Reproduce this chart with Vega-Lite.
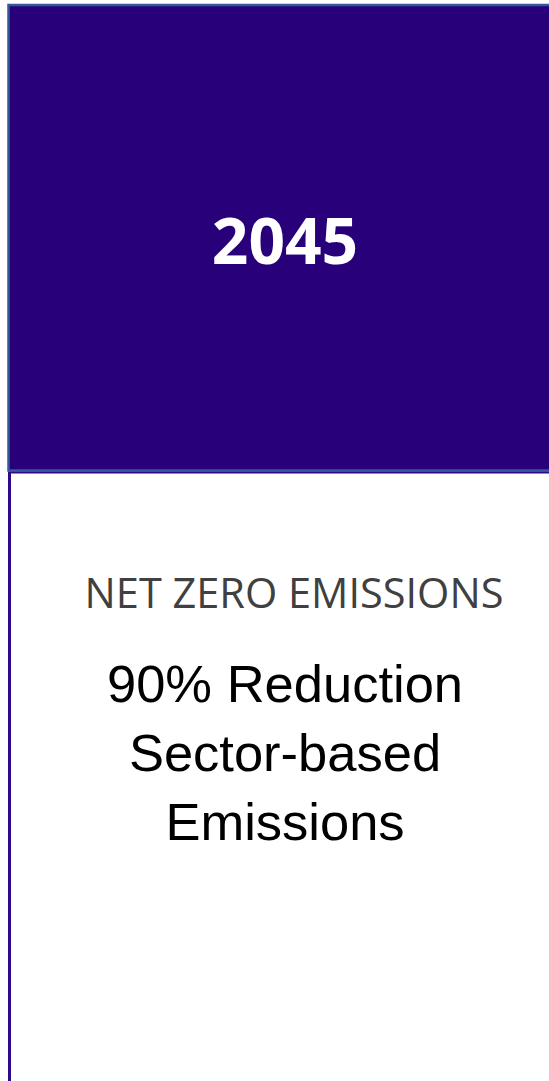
{
  "$schema": "https://vega.github.io/schema/vega-lite/v6.json",
  "width": 549,
  "height": 1081,
  "padding": 0,
  "autosize": {"type": "none"},
  "background": "white",
  "config": {"view": {"stroke": null}},
  "datasets": {
    "box": [{"x": 8.5, "x2": 556, "y": 5, "y2": 470.5}],
    "hline": [{"x": 8.5, "x2": 549, "y": 472.5}],
    "vline": [{"x": 9.5, "y": 472, "y2": 1081}],
    "year": [{"x": 285, "y": 264, "label": "2045"}],
    "head": [{"x": 294, "y": 608, "label": "NET ZERO EMISSIONS"}],
    "body": [
      {"x": 285, "y": 702, "label": "90% Reduction"},
      {"x": 285, "y": 771, "label": "Sector-based"},
      {"x": 285, "y": 840, "label": "Emissions"}
    ]
  },
  "layer": [
    {
      "data": {"name": "box"},
      "mark": {"type": "rect", "fill": "#27007a", "stroke": "#34589a", "strokeWidth": 2.5, "clip": true},
      "encoding": {
        "x": {"field": "x", "type": "quantitative", "scale": {"domain": [0, 549], "nice": false, "zero": false}, "axis": null},
        "x2": {"field": "x2"},
        "y": {"field": "y", "type": "quantitative", "scale": {"domain": [0, 1081], "reverse": true, "nice": false, "zero": false}, "axis": null},
        "y2": {"field": "y2"}
      }
    },
    {
      "data": {"name": "hline"},
      "mark": {"type": "rule", "color": "#2c0a8a", "strokeWidth": 2},
      "encoding": {
        "x": {"field": "x", "type": "quantitative"},
        "x2": {"field": "x2"},
        "y": {"field": "y", "type": "quantitative"}
      }
    },
    {
      "data": {"name": "vline"},
      "mark": {"type": "rule", "color": "#2c0a8a", "strokeWidth": 3},
      "encoding": {
        "x": {"field": "x", "type": "quantitative"},
        "y": {"field": "y", "type": "quantitative"},
        "y2": {"field": "y2"}
      }
    },
    {
      "data": {"name": "year"},
      "mark": {"type": "text", "font": "Open Sans", "fontWeight": "bold", "fontSize": 64, "color": "white", "align": "center", "baseline": "alphabetic"},
      "encoding": {
        "x": {"field": "x", "type": "quantitative"},
        "y": {"field": "y", "type": "quantitative"},
        "text": {"field": "label"}
      }
    },
    {
      "data": {"name": "head"},
      "mark": {"type": "text", "font": "Open Sans", "fontSize": 41.5, "color": "#404040", "align": "center", "baseline": "alphabetic"},
      "encoding": {
        "x": {"field": "x", "type": "quantitative"},
        "y": {"field": "y", "type": "quantitative"},
        "text": {"field": "label"}
      }
    },
    {
      "data": {"name": "body"},
      "mark": {"type": "text", "font": "Liberation Sans", "fontSize": 52.5, "color": "black", "align": "center", "baseline": "alphabetic"},
      "encoding": {
        "x": {"field": "x", "type": "quantitative"},
        "y": {"field": "y", "type": "quantitative"},
        "text": {"field": "label"}
      }
    }
  ]
}
